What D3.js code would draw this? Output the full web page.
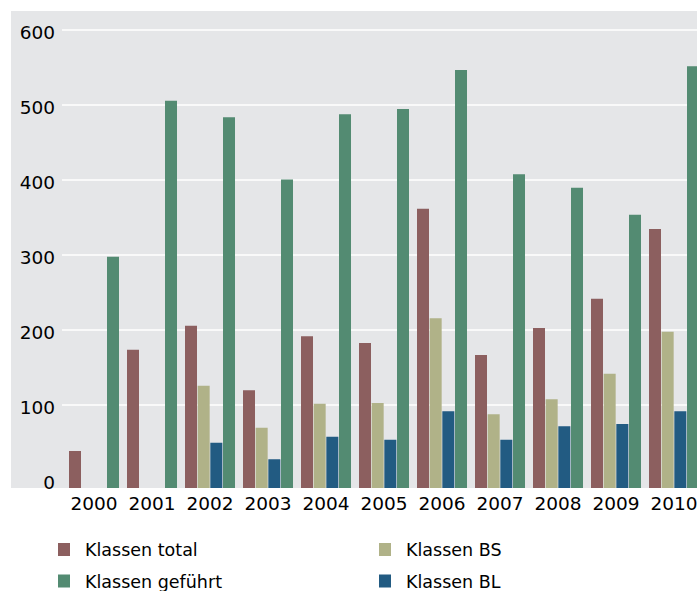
<!DOCTYPE html>
<html>
<head>
<meta charset="utf-8">
<script src="https://cdn.jsdelivr.net/npm/d3@7"></script>
<style>
  body { margin: 0; background: #fff; }
  svg { display: block; font-family: "DejaVu Sans", sans-serif; }
</style>
</head>
<body>
<div id="chart"></div>
<script>
const years = ["2000", "2001", "2002", "2003", "2004", "2005", "2006", "2007", "2008", "2009", "2010"];
const klassenTotal = [38, 173, 205, 119, 191, 182, 361, 166, 202, 241, 334];
const klassenBS = [null, null, 125, 69, 101, 102, 215, 87, 107, 141, 197];
const klassenBL = [null, null, 49, 27, 57, 53, 91, 53, 71, 74, 91];
const klassenGefuehrt = [297, 505, 483, 400, 487, 494, 546, 407, 389, 353, 551];
const yTicks = [0, 100, 200, 300, 400, 500, 600];

const series = [
  { key: "total", label: "Klassen total", values: klassenTotal, color: "#8c5f5f" },
  { key: "bs", label: "Klassen BS", values: klassenBS, color: "#b0b288" },
  { key: "bl", label: "Klassen BL", values: klassenBL, color: "#225b82" },
  { key: "gef", label: "Klassen geführt", values: klassenGefuehrt, color: "#538b72" }
];

const W = 697, H = 591;
const plot = { left: 11, top: 11, right: 697, bottom: 488 };

const svg = d3.select("#chart").append("svg")
  .attr("width", W)
  .attr("height", H);

svg.append("rect")
  .attr("x", plot.left)
  .attr("y", plot.top)
  .attr("width", plot.right - plot.left)
  .attr("height", plot.bottom - plot.top)
  .attr("fill", "#e5e6e8");

const x0 = d3.scaleBand().domain(years).range([65, 65 + 58 * years.length])
  .paddingInner(8 / 58).paddingOuter(4 / 58);
const x1 = d3.scaleBand().domain(series.map(s => s.key)).range([0, x0.bandwidth()])
  .paddingInner(0.053);
const y = d3.scaleLinear().domain([0, 600]).range([479.5, 29.5]);

// y axis + white gridlines
const yAxis = d3.axisLeft(y).tickValues(yTicks).tickSize(-(plot.right - 62)).tickPadding(7);
const gy = svg.append("g").attr("transform", "translate(62,0)").call(yAxis);
gy.select(".domain").remove();
gy.selectAll(".tick line")
  .attr("stroke", "#fff")
  .attr("stroke-width", 1.5)
  .attr("opacity", d => d === 0 ? 0 : 1);
gy.selectAll(".tick text")
  .attr("dy", "0.5em")
  .attr("fill", "#000")
  .style("font-size", "18.5px")
  .style("font-family", "DejaVu Sans");

// bars
const groups = svg.append("g").selectAll("g")
  .data(years)
  .join("g")
  .attr("transform", d => `translate(${x0(d)},0)`);

groups.selectAll("rect")
  .data((d, i) => series.filter(s => s.values[i] != null).map(s => ({ key: s.key, value: s.values[i], color: s.color })))
  .join("rect")
  .attr("x", d => x1(d.key))
  .attr("width", 12)
  .attr("y", d => y(d.value))
  .attr("height", d => plot.bottom - y(d.value))
  .attr("fill", d => d.color);

// x axis
const xAxis = d3.axisBottom(x0).tickSize(0).tickPadding(9);
const gx = svg.append("g").attr("transform", `translate(0,${plot.bottom})`).call(xAxis);
gx.select(".domain").remove();
gx.selectAll(".tick text")
  .attr("fill", "#000")
  .style("font-size", "18.5px")
  .style("font-family", "DejaVu Sans");

// legend
const legendPos = [
  { key: "total", x: 58, y: 543 },
  { key: "bs", x: 379, y: 543 },
  { key: "gef", x: 58, y: 574.5 },
  { key: "bl", x: 379, y: 574.5 }
];
const legend = svg.append("g").selectAll("g")
  .data(legendPos)
  .join("g")
  .attr("transform", d => `translate(${d.x},${d.y})`);

legend.append("rect")
  .attr("width", 12)
  .attr("height", 13)
  .attr("fill", d => series.find(s => s.key === d.key).color);

legend.append("text")
  .attr("x", 27)
  .attr("y", 13)
  .attr("fill", "#000")
  .style("font-size", "17.5px")
  .text(d => series.find(s => s.key === d.key).label);
</script>
</body>
</html>
